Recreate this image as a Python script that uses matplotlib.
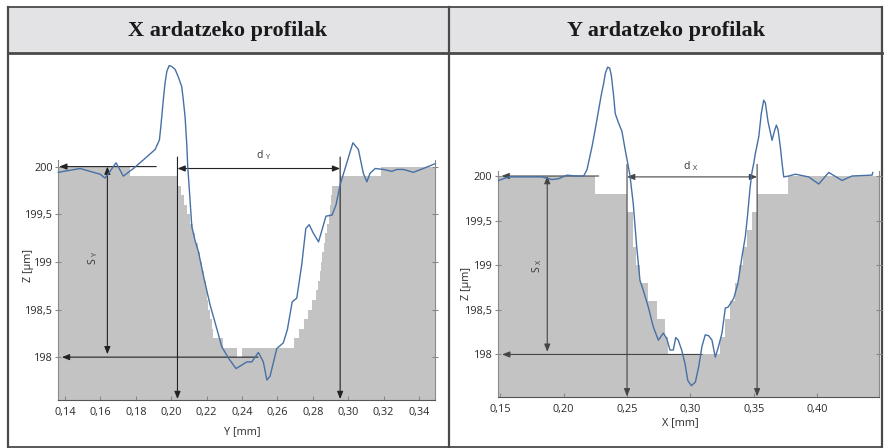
import matplotlib
matplotlib.use('Agg')
import matplotlib.pyplot as plt
from matplotlib.patches import Rectangle

plt.rcParams['font.family'] = ['Open Sans', 'DejaVu Sans']
plt.rcParams['mathtext.default'] = 'regular'

# --- X ardatzeko profila (ezkerra) ---
xl = [0.1362, 0.1485, 0.1598, 0.1626, 0.1654, 0.1688, 0.1729, 0.1786, 0.1842, 0.1909,
      0.1933, 0.1941, 0.1946, 0.1955, 0.1965, 0.1975, 0.1988, 0.2003, 0.2022, 0.2040,
      0.2059, 0.2068, 0.2078, 0.2087, 0.2093, 0.2106, 0.2116,
      0.2135, 0.2153, 0.2181, 0.2219, 0.2257, 0.2285, 0.2323, 0.2366, 0.2427, 0.2455,
      0.2492, 0.2520, 0.2540, 0.2558, 0.2596, 0.2633, 0.2656, 0.2683, 0.2709, 0.2737,
      0.2760, 0.2779, 0.2803, 0.2832, 0.2874, 0.2908, 0.2931, 0.2954, 0.2982, 0.3026,
      0.3057, 0.3085, 0.3105, 0.3123, 0.3152, 0.3199, 0.3246, 0.3274, 0.3311, 0.3368,
      0.3424, 0.3490]
zl = [199.94, 199.98, 199.92, 199.88, 199.95, 200.04, 199.90, 199.98, 200.07, 200.18,
      200.28, 200.42, 200.52, 200.70, 200.88, 201.00, 201.06, 201.05, 201.02, 200.94,
      200.84, 200.70, 200.52, 200.25, 200.00, 199.65, 199.37,
      199.22, 199.11, 198.86, 198.55, 198.30, 198.11, 197.99, 197.88, 197.95, 197.95,
      198.05, 197.95, 197.76, 197.80, 198.09, 198.15, 198.29, 198.58, 198.62, 198.97,
      199.35, 199.39, 199.30, 199.21, 199.48, 199.49, 199.60, 199.81, 199.98, 200.25,
      200.18, 199.93, 199.84, 199.93, 199.98, 199.97, 199.95, 199.97, 199.97, 199.94,
      199.98, 200.03]

# simulazioaren profila (grisa), mailaka
gray_lx = [0.1362, 0.1767, 0.2035, 0.2055, 0.2072, 0.2090, 0.2105, 0.2120, 0.2135, 0.2150,
           0.2163, 0.2175, 0.2186, 0.2195, 0.2203, 0.2210, 0.2218, 0.2228, 0.2238, 0.2290,
           0.2370, 0.2400, 0.2696, 0.2722, 0.2750, 0.2775, 0.2797, 0.2816, 0.2831, 0.2838,
           0.2845, 0.2851, 0.2860, 0.2870, 0.2881, 0.2890, 0.2897, 0.2903, 0.2910, 0.2954,
           0.3186, 0.3490]
gray_lz = [200.0, 199.9, 199.8, 199.7, 199.6, 199.5, 199.4, 199.3, 199.2, 199.1,
           199.0, 198.9, 198.8, 198.7, 198.6, 198.5, 198.4, 198.3, 198.2, 198.1,
           198.0, 198.1, 198.2, 198.3, 198.4, 198.5, 198.6, 198.7, 198.8, 198.9,
           199.0, 199.1, 199.2, 199.3, 199.4, 199.5, 199.6, 199.7, 199.8, 199.9,
           200.0, 200.0]

# --- Y ardatzeko profila (eskuina) ---
xr = [0.1487, 0.1566, 0.1724, 0.1829, 0.1908, 0.1961, 0.2026, 0.2092, 0.2158, 0.2184,
      0.2224, 0.2250, 0.2276, 0.2297, 0.2316, 0.2329, 0.2347, 0.2363, 0.2376, 0.2395,
      0.2407, 0.2429, 0.2460, 0.2486, 0.2523,
      0.2549, 0.2576, 0.2602, 0.2628, 0.2668, 0.2707, 0.2747, 0.2786, 0.2813, 0.2839,
      0.2865, 0.2884, 0.2904, 0.2931, 0.2957, 0.2979, 0.3007, 0.3039, 0.3065, 0.3091,
      0.3117, 0.3144, 0.3170, 0.3196, 0.3218, 0.3249, 0.3275, 0.3297, 0.3342, 0.3375,
      0.3407, 0.3433, 0.3450, 0.3470, 0.3484, 0.3499, 0.3512, 0.3539, 0.3559, 0.3578,
      0.3591, 0.3612, 0.3644, 0.3662, 0.3678, 0.3691, 0.3709, 0.3723, 0.3736, 0.3776,
      0.3828, 0.3933, 0.4012, 0.4091, 0.4196, 0.4275, 0.4433, 0.4438]
zr = [199.95, 199.99, 199.99, 199.99, 199.96, 199.97, 200.01, 200.00, 200.00, 200.07,
      200.33, 200.53, 200.74, 200.91, 201.04, 201.15, 201.22, 201.21, 201.13, 200.89,
      200.70, 200.61, 200.50, 200.29, 200.01,
      199.69, 199.21, 198.83, 198.72, 198.53, 198.31, 198.16, 198.24, 198.18, 198.05,
      198.05, 198.19, 198.16, 198.05, 197.90, 197.71, 197.65, 197.69, 197.86, 198.09,
      198.22, 198.21, 198.16, 197.97, 198.07, 198.24, 198.52, 198.53, 198.63, 198.80,
      199.10, 199.32, 199.55, 199.86, 200.03, 200.14, 200.25, 200.44, 200.70, 200.85,
      200.82, 200.61, 200.40, 200.50, 200.57, 200.52, 200.33, 200.14, 199.99, 200.00,
      200.02, 199.99, 199.91, 200.04, 199.95, 200.00, 200.01, 200.04]

gray_rx = [0.1482, 0.2250, 0.2500, 0.2550, 0.2570, 0.2602, 0.2668, 0.2734, 0.2800, 0.2826,
           0.3230, 0.3270, 0.3315, 0.3350, 0.3386, 0.3417, 0.3444, 0.3484, 0.3526, 0.3772,
           0.4485]
gray_rz = [200.0, 199.8, 199.6, 199.2, 199.0, 198.8, 198.6, 198.4, 198.2, 198.0,
           198.2, 198.4, 198.6, 198.8, 199.0, 199.2, 199.4, 199.6, 199.8, 200.0,
           200.0]

z_ticks = [198, 198.5, 199, 199.5, 200]
z_labels = ['198', '198,5', '199', '199,5', '200']
xl_ticks = [0.14, 0.16, 0.18, 0.20, 0.22, 0.24, 0.26, 0.28, 0.30, 0.32, 0.34]
xr_ticks = [0.15, 0.20, 0.25, 0.30, 0.35, 0.40]

blue = '#4670a6'
gris = '#c3c3c3'

fig = plt.figure(figsize=(8.84, 4.48), dpi=100)

# taularen markoa
bg = fig.add_axes([0, 0, 1, 1], zorder=-5)
bg.set_xlim(0, 884)
bg.set_ylim(448, 0)
bg.axis('off')
bg.add_patch(Rectangle((7.5, 7.5), 874.5, 46, color='#e3e3e5', lw=0))
kol = '#4a4a4a'
bg.plot([7.5, 882], [7.5, 7.5], color=kol, lw=1.3)
bg.plot([7.5, 882], [53.5, 53.5], color=kol, lw=2)
bg.plot([7.5, 882], [446.8, 446.8], color=kol, lw=1.3)
bg.plot([7.5, 7.5], [7.5, 448], color=kol, lw=1.6)
bg.plot([449.3, 449.3], [7.5, 448], color=kol, lw=1.6)
bg.plot([882, 882], [7.5, 448], color=kol, lw=1.6)
bg.text(228, 31, 'X ardatzeko profilak', ha='center', va='center',
        family='Liberation Serif', weight='bold', size=16, color='#1a1a1a')
bg.text(666, 31, 'Y ardatzeko profilak', ha='center', va='center',
        family='Liberation Serif', weight='bold', size=16, color='#1a1a1a')


def arrow(ax, p0, p1, style, color):
    ax.annotate('', xy=p1, xytext=p0, annotation_clip=False,
                arrowprops=dict(arrowstyle=style + ',head_length=0.45,head_width=0.18',
                                color=color, lw=0.8, shrinkA=0, shrinkB=0,
                                mutation_scale=10))


def style_axes(ax, xticks, zmin, top):
    ax.set_yticks(z_ticks, z_labels)
    ax.set_xticks(xticks, ['{:.2f}'.format(v).replace('.', ',') for v in xticks])
    ax.spines['top'].set_visible(False)
    for s in ['left', 'right']:
        ax.spines[s].set_bounds(zmin, top)
        ax.spines[s].set_color('#8a8a8a')
        ax.spines[s].set_linewidth(0.8)
    ax.spines['bottom'].set_color('#555555')
    ax.spines['bottom'].set_linewidth(0.8)
    ax.tick_params(axis='x', direction='in', length=3, color='#888888',
                   labelsize=7.8, labelcolor='#2a2a2a', pad=5)
    ax.tick_params(axis='y', direction='inout', length=4, color='#888888',
                   labelsize=7.8, labelcolor='#2a2a2a', pad=2, right=True)
    ax.patch.set_alpha(0)


# ezkerreko grafikoa
ax1 = fig.add_axes([0.0660, 0.1071, 0.4261, 0.7656])
zmin1 = 197.55
ax1.set_xlim(0.1362, 0.3490)
ax1.set_ylim(zmin1, 201.15)
ax1.fill_between(gray_lx, gray_lz, zmin1, step='post', color=gris, lw=0)
ax1.plot(xl, zl, color=blue, lw=1.0, clip_on=False, zorder=4)
style_axes(ax1, xl_ticks, zmin1, 200.07)
c1 = '#222222'
arrow(ax1, (0.1915, 200.0), (0.1367, 200.0), '-|>', c1)
arrow(ax1, (0.1639, 198.03), (0.1639, 200.0), '<|-|>', c1)
arrow(ax1, (0.2490, 198.0), (0.1382, 198.0), '-|>', c1)
arrow(ax1, (0.2035, 200.10), (0.2035, 197.56), '-|>', c1)
arrow(ax1, (0.2954, 200.10), (0.2954, 197.56), '-|>', c1)
arrow(ax1, (0.2035, 199.98), (0.2954, 199.98), '<|-|>', c1)
ax1.text(0.2521, 200.12, r'd $_{\mathregular{Y}}$', ha='center', va='center', size=7.5, color='#333333')
ax1.text(0.1558, 199.04, r'S $_{\mathregular{Y}}$', ha='center', va='center', size=7.5,
         rotation=90, color='#333333')
ax1.text(0.487, -0.0924, 'Y [mm]', transform=ax1.transAxes, ha='center', va='center',
         size=7.8, color='#2a2a2a')
ax1.text(-0.0804, 0.3936, 'Z [µm]', transform=ax1.transAxes, ha='center', va='center',
         size=7.8, color='#2a2a2a', rotation=90)

# eskuineko grafikoa
ax2 = fig.add_axes([0.5633, 0.1132, 0.4307, 0.7596])
zmin2 = 197.52
ax2.set_xlim(0.1482, 0.4485)
ax2.set_ylim(zmin2, 201.334)
ax2.fill_between(gray_rx, gray_rz, zmin2, step='post', color=gris, lw=0)
ax2.plot(xr, zr, color=blue, lw=1.0, clip_on=False, zorder=4)
style_axes(ax2, xr_ticks, zmin2, 200.06)
c2 = '#444444'
arrow(ax2, (0.2276, 200.0), (0.1510, 200.0), '-|>', c2)
arrow(ax2, (0.1871, 198.03), (0.1871, 200.0), '<|-|>', c2)
arrow(ax2, (0.3092, 198.0), (0.1515, 198.0), '-|>', c2)
arrow(ax2, (0.2500, 200.13), (0.2500, 197.53), '-|>', c2)
arrow(ax2, (0.3526, 200.13), (0.3526, 197.53), '-|>', c2)
arrow(ax2, (0.2500, 199.99), (0.3526, 199.99), '<|-|>', c2)
ax2.text(0.300, 200.11, r'd $_{\mathregular{X}}$', ha='center', va='center', size=7.5, color='#333333')
ax2.text(0.1790, 199.0, r'S $_{\mathregular{X}}$', ha='center', va='center', size=7.5,
         rotation=90, color='#333333')
ax2.text(0.479, -0.0755, 'X [mm]', transform=ax2.transAxes, ha='center', va='center',
         size=7.8, color='#2a2a2a')
ax2.text(-0.0814, 0.335, 'Z [µm]', transform=ax2.transAxes, ha='center', va='center',
         size=7.8, color='#2a2a2a', rotation=90)

fig.savefig('out.png', dpi=100)
